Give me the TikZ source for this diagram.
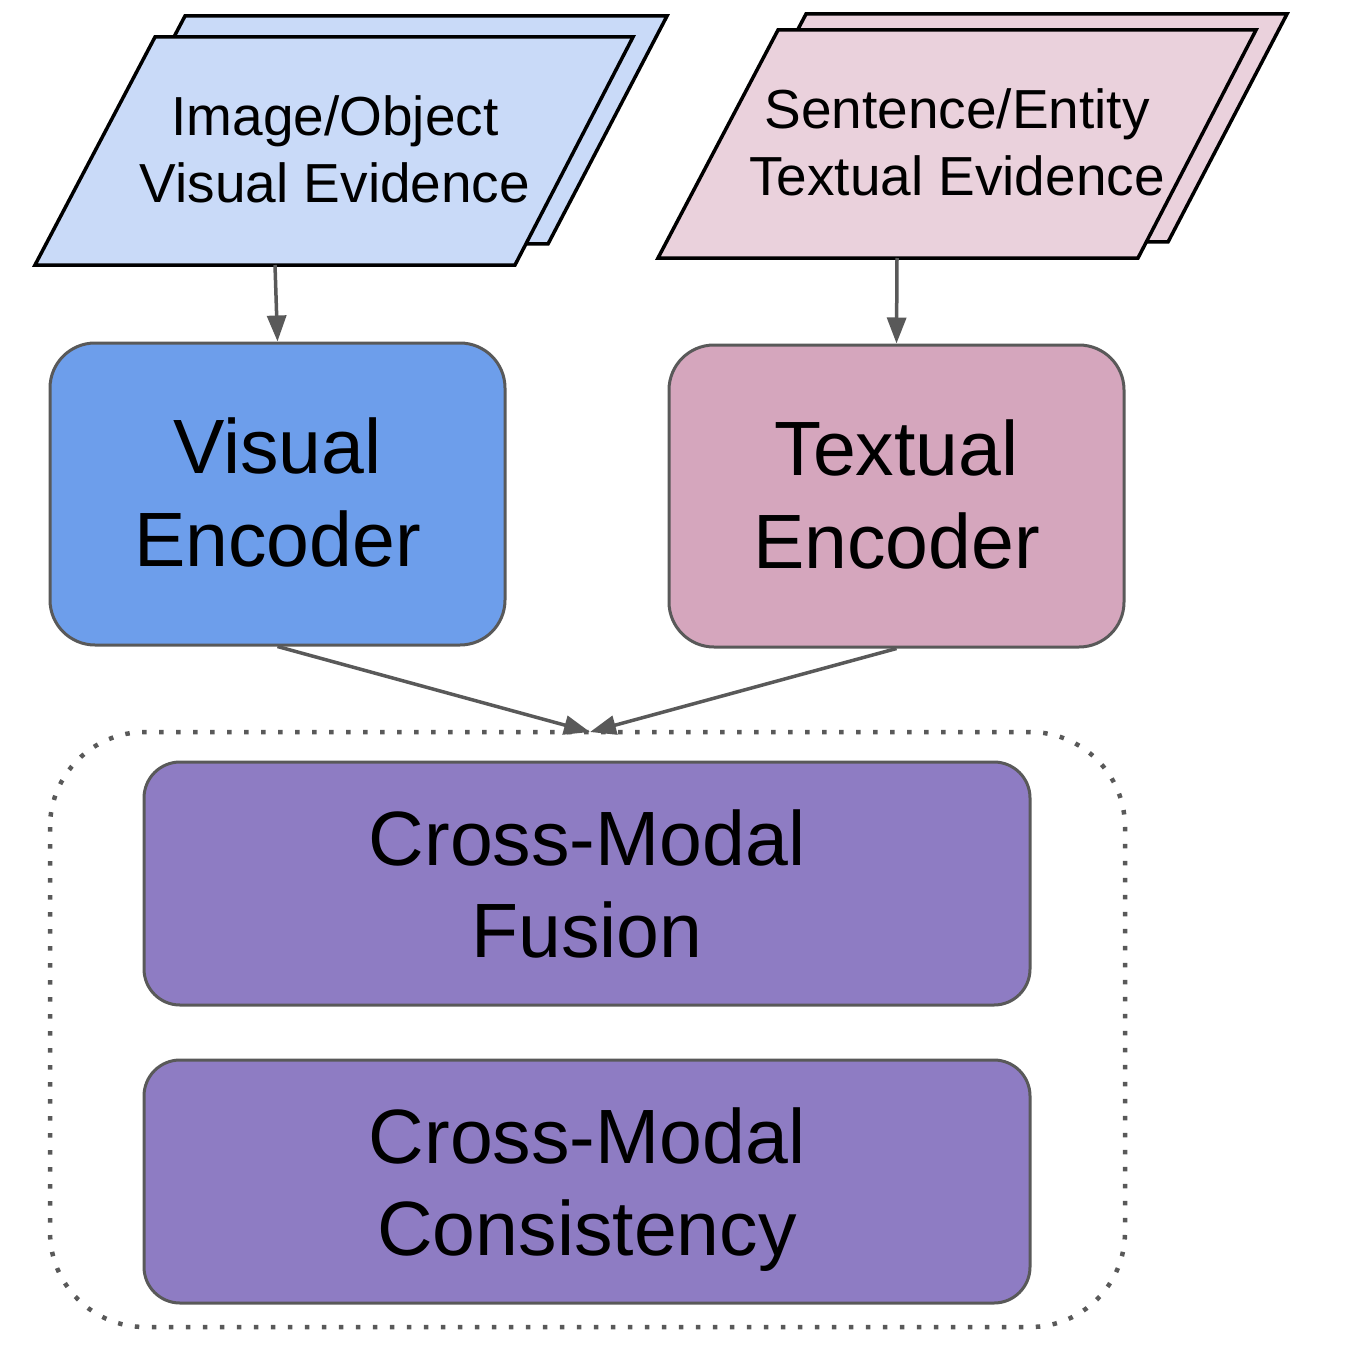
\documentclass[tikz,border=0pt]{standalone}
\usepackage{fontspec}
\setmainfont{Liberation Sans}
\usetikzlibrary{arrows.meta}
\definecolor{lblue}{HTML}{C9DAF8}
\definecolor{lpink}{HTML}{EAD1DC}
\definecolor{mblue}{HTML}{6D9EEB}
\definecolor{mpink}{HTML}{D5A6BD}
\definecolor{mpurp}{HTML}{8E7CC3}
\definecolor{dgray}{HTML}{595959}
\tikzset{
  para/.style={draw=black, line width=3.5pt, line join=miter},
  encbox/.style={draw=dgray, line width=3pt, rounded corners=45pt, inner sep=0pt, align=center, minimum width=455pt, minimum height=302pt, font=\fontsize{77}{93}\selectfont},
  fusbox/.style={draw=dgray, fill=mpurp, line width=3pt, rounded corners=36pt, inner sep=0pt, align=center, minimum width=886pt, minimum height=243pt, font=\fontsize{77}{92}\selectfont},
  paratext/.style={align=center, inner sep=0pt, font=\fontsize{55}{67}\selectfont},
  conn/.style={draw=dgray, line width=3.5pt, -{Triangle[length=26pt,width=19pt]}},
  group/.style={draw=dgray, line width=4.5pt, dash pattern=on 4.5pt off 12.5pt, rounded corners=95pt}
}
\newcommand{\nodepth}[1]{\raisebox{0pt}[\height][0pt]{#1}}
\begin{document}
\begin{tikzpicture}[x=1pt,y=-1pt]
\useasboundingbox (0,0) rectangle (1348,1348);
% visual evidence stack
\draw[para, fill=lblue] (185,16) -- (667,16) -- (548,244) -- (65,244) -- cycle;
\draw[para, fill=lblue] (155,37) -- (633,37) -- (515,265) -- (35,265) -- cycle;
\node[paratext] (vev) at (335,149) {Image/Object\\Visual Evidence};
\coordinate (vevb) at (275,265);
% textual evidence stack
\draw[para, fill=lpink] (806,14) -- (1287,14) -- (1168,242) -- (686,242) -- cycle;
\draw[para, fill=lpink] (778,30) -- (1256,30) -- (1138,258) -- (658,258) -- cycle;
\node[paratext] (tev) at (957,142) {Sentence/Entity\\Textual Evidence};
\coordinate (tevb) at (897,258);
% encoders
\node[encbox, fill=mblue] (venc) at (277.5,494) {\raisebox{3pt}{Visual}\\\raisebox{3pt}{Encoder}};
\node[encbox, fill=mpink] (tenc) at (896.5,496) {\raisebox{3pt}{Textual}\\\raisebox{3pt}{Encoder}};
% group
\draw[group] (50,732) rectangle (1125,1327);
\coordinate (gtop) at (590,732);
% fusion boxes
\node[fusbox] (fus) at (587,883.5) {Cross-Modal\\Fusion};
\node[fusbox] (cons) at (587,1181.5) {Cross-Modal\\\nodepth{Consistency}};
% connectors
\draw[conn] (vevb) -- (venc.north);
\draw[conn] (tevb) -- (tenc.north);
\draw[conn] (venc.south) -- (gtop);
\draw[conn] (tenc.south) -- (gtop);
\end{tikzpicture}
\end{document}
